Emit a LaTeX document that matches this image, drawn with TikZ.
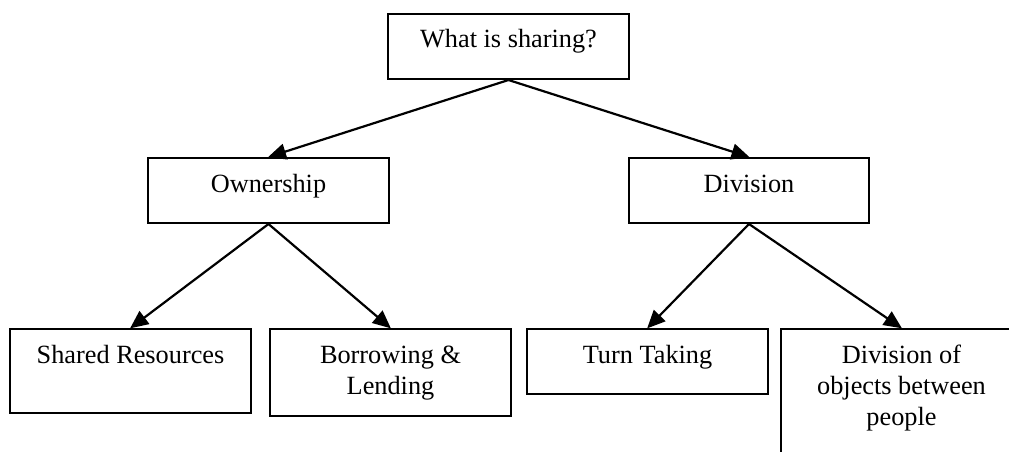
\documentclass[tikz,border=0pt]{standalone}
\usepackage{fontspec}
\setmainfont{Liberation Serif}
\usetikzlibrary{arrows.meta}
\begin{document}
\begin{tikzpicture}[x=1pt,y=-1pt,
  box/.style={draw, line width=2pt, inner sep=0pt, anchor=north west, minimum width=241pt},
  lbl/.style={font=\fontsize{26.3}{31}\selectfont, align=center, anchor=base, inner sep=0pt},
  arr/.style={line width=2.2pt, -{Triangle[length=18pt,width=16pt]}, shorten >=-0.5pt}]
\useasboundingbox (0,0) rectangle (1009,451);
\clip (0,0) rectangle (1009,451);
% boxes
\node[box, minimum height=65pt] (top) at (387,13) {};
\node[box, minimum height=65pt] (own) at (147,157) {};
\node[box, minimum height=65pt, minimum width=240pt] (div) at (628,157) {};
\node[box, minimum height=84pt] (shr) at (9,328) {};
\node[box, minimum height=87pt] (bor) at (269,328) {};
\node[box, minimum height=65pt] (turn) at (526,328) {};
\node[box, minimum height=200pt] (obj) at (780,328) {};
% labels
\node[lbl] (ttop) at ([yshift=-34pt]top.north) {What is sharing?};
\node[lbl] (town) at ([yshift=-35pt]own.north) {Ownership};
\node[lbl] (tdiv) at ([yshift=-35pt]div.north) {Division};
\node[lbl] (tshr) at ([yshift=-35pt]shr.north) {Shared Resources};
\node[lbl] (tbor) at ([yshift=-66pt]bor.north) {Borrowing \&\\Lending};
\node[lbl] (tturn) at ([yshift=-35pt]turn.north) {Turn Taking};
\node[lbl] (tobj) at ([yshift=-97pt]obj.north) {Division of\\objects between\\people};
% connectors
\draw[arr] (top.south) -- (own.north);
\draw[arr] (top.south) -- (div.north);
\draw[arr] (own.south) -- (shr.north);
\draw[arr] (own.south) -- (bor.north);
\draw[arr] (div.south) -- (turn.north);
\draw[arr] (div.south) -- (obj.north);
\end{tikzpicture}
\end{document}
